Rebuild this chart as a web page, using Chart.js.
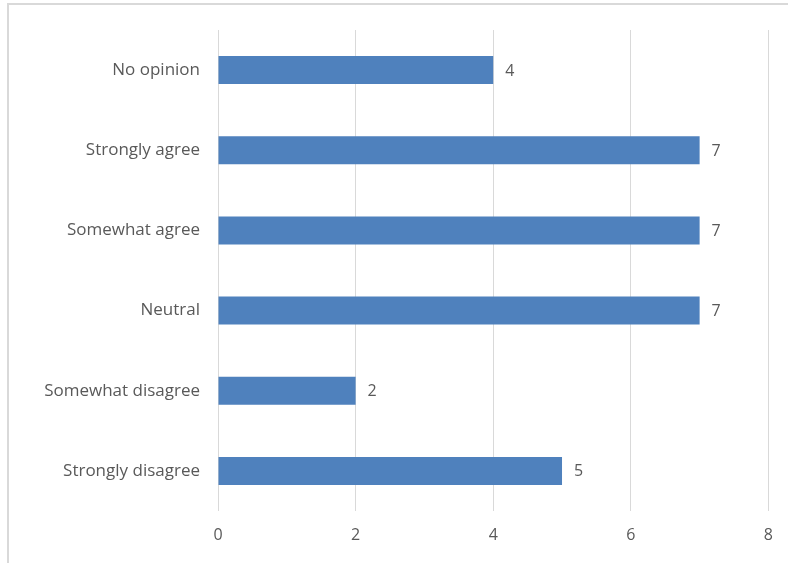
<!DOCTYPE html>
<html>
<head>
<meta charset="utf-8">
<script src="https://cdn.jsdelivr.net/npm/chart.js@4"></script>
<style>
  body { margin: 0; background: #fff; }
  #frame {
    position: absolute; left: 7px; top: 3px; width: 800px; height: 600px;
    border: 2px solid #d9d9d9; box-sizing: border-box;
  }
  #wrap { position: absolute; left: 0; top: 0; width: 788px; height: 563px; }
</style>
</head>
<body>
<div id="frame"></div>
<div id="wrap"><canvas id="chart" width="788" height="563"></canvas></div>
<script>
const categories = ['No opinion', 'Strongly agree', 'Somewhat agree', 'Neutral', 'Somewhat disagree', 'Strongly disagree'];
const counts = [4, 7, 7, 7, 2, 5];
const xTicks = [0, 2, 4, 6, 8];

const textColor = '#595959';
const font = { family: 'Open Sans', size: 17 };

// value labels at the end of each bar
const valueLabels = {
  id: 'valueLabels',
  afterDatasetsDraw(chart) {
    const ctx = chart.ctx;
    const meta = chart.getDatasetMeta(0);
    ctx.save();
    ctx.fillStyle = textColor;
    ctx.font = '16px "Open Sans"';
    ctx.textBaseline = 'middle';
    ctx.textAlign = 'left';
    meta.data.forEach((bar, i) => {
      ctx.fillText(String(counts[i]), bar.x + 12, bar.y + 1);
    });
    ctx.restore();
  }
};

new Chart(document.getElementById('chart').getContext('2d'), {
  type: 'bar',
  data: {
    labels: categories,
    datasets: [{
      data: counts,
      backgroundColor: '#4f81bd',
      borderWidth: 0,
      barPercentage: 0.7,
      categoryPercentage: 0.5
    }]
  },
  options: {
    indexAxis: 'y',
    responsive: false,
    animation: false,
    layout: { padding: { top: 30, right: 19, left: 0, bottom: 0 } },
    plugins: { legend: { display: false }, tooltip: { enabled: false } },
    scales: {
      x: {
        min: 0,
        max: 8,
        afterBuildTicks(scale) { scale.ticks = xTicks.map(v => ({ value: v })); },
        grid: { color: '#d9d9d9', drawTicks: false },
        border: { display: false },
        ticks: { color: textColor, font: { family: 'Open Sans', size: 16 }, padding: 15 },
        afterFit(scale) { scale.height = 52; }
      },
      y: {
        grid: { display: false, drawTicks: false },
        border: { display: false },
        ticks: { color: textColor, font: font, padding: 18 },
        afterFit(scale) { scale.width = 218; }
      }
    }
  },
  plugins: [valueLabels]
});
</script>
</body>
</html>
